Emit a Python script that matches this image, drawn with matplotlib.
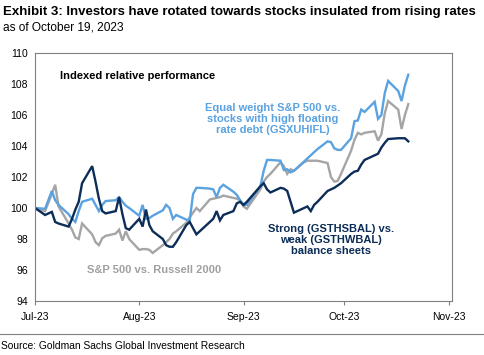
import matplotlib
matplotlib.use("Agg")
import matplotlib.pyplot as plt
import pandas as pd

plt.rcParams['font.family'] = ['Liberation Sans', 'DejaVu Sans']

dates = ["2023-06-30","2023-07-03","2023-07-05","2023-07-06","2023-07-07","2023-07-10","2023-07-11","2023-07-12",
         "2023-07-13","2023-07-14","2023-07-17","2023-07-18","2023-07-19","2023-07-20","2023-07-21","2023-07-24",
         "2023-07-25","2023-07-26","2023-07-27","2023-07-28","2023-07-31","2023-08-01","2023-08-02","2023-08-03",
         "2023-08-04","2023-08-07","2023-08-08","2023-08-09","2023-08-10","2023-08-11","2023-08-14","2023-08-15",
         "2023-08-16","2023-08-17","2023-08-18","2023-08-21","2023-08-22","2023-08-23","2023-08-24","2023-08-25",
         "2023-08-28","2023-08-29","2023-08-30","2023-08-31","2023-09-01","2023-09-05","2023-09-06","2023-09-07",
         "2023-09-08","2023-09-11","2023-09-12","2023-09-13","2023-09-14","2023-09-15","2023-09-18","2023-09-19",
         "2023-09-20","2023-09-21","2023-09-22","2023-09-25","2023-09-26","2023-09-27","2023-09-28","2023-09-29",
         "2023-10-02","2023-10-03","2023-10-04","2023-10-05","2023-10-06","2023-10-09","2023-10-10","2023-10-11",
         "2023-10-12","2023-10-13","2023-10-16","2023-10-17","2023-10-18","2023-10-19"]

strong_vs_weak = [100.0, 99.55, 99.75, 99.1, 99.0, 98.8, 99.3, 99.9, 100.4, 101.6, 102.7, 101.7, 100.6, 99.8, 99.65, 99.8,
                  100.7, 99.6, 98.7, 98.6, 99.3, 98.8, 99.9, 98.9, 98.5, 98.0, 97.6, 97.5, 97.5, 97.8, 98.9, 99.1,
                  98.7, 98.3, 98.5, 99.1, 99.3, 99.8, 99.2, 99.55, 99.8, 100.3, 100.4, 100.2, 100.4, 101.4, 101.6, 101.2,
                  101.0, 101.3, 101.25, 101.1, 100.4, 99.7, 100.0, 100.1, 99.8, 100.2, 100.4, 101.1, 101.2, 101.3,
                  101.45, 101.6, 102.2, 102.35, 102.4, 102.8, 103.1, 103.4, 103.5, 103.9, 104.2, 104.45, 104.5, 104.5,
                  104.5, 104.3]

ew_vs_floating = [100.0, 99.95, 101.1, 100.5, 100.2, 99.6, 99.3, 99.1, 99.8, 100.4, 100.6, 100.2, 99.8, 100.2, 100.45,
                  100.5, 100.7, 100.4, 100.15, 100.0, 99.5, 100.2, 99.3, 99.35, 99.5, 99.85, 100.2, 100.0, 99.3, 99.55,
                  99.25, 99.2, 100.9, 101.3, 101.3, 101.25, 101.2, 100.7, 101.3, 101.5, 101.05, 100.85, 100.5, 100.2,
                  100.2, 101.4, 102.4, 103.1, 103.1, 103.05, 102.45, 102.5, 102.3, 102.4, 103.0, 103.2, 103.4, 103.6,
                  103.8, 104.3, 104.25, 103.85, 103.75, 103.75, 104.5, 105.6, 105.65, 106.35, 106.2, 106.85, 105.75,
                  106.0, 107.4, 108.2, 107.55, 106.9, 107.9, 108.6]

spx_vs_r2k = [100.0, 99.8, 100.9, 101.5, 100.1, 99.0, 98.6, 98.1, 98.0, 99.0, 98.3, 97.8, 97.6, 98.05, 98.2, 98.35,
              98.6, 97.9, 98.5, 98.0, 97.3, 97.35, 97.35, 97.3, 97.1, 97.6, 97.8, 98.0, 98.35, 98.5, 99.05, 99.4,
              99.7, 100.0, 99.8, 100.55, 100.6, 100.65, 100.7, 100.8, 100.65, 100.6, 100.5, 100.1, 99.95, 101.2,
              101.7, 102.0, 102.2, 102.95, 102.7, 102.2, 102.5, 102.4, 102.95, 103.05, 103.05, 103.05, 103.05,
              102.9, 102.0, 101.7, 101.75, 102.2, 103.7, 104.4, 104.85, 104.75, 104.85, 104.95, 104.35, 104.75,
              106.1, 106.9, 106.35, 105.1, 106.0, 106.7]

month_ticks = ["2023-07-01", "2023-08-01", "2023-09-01", "2023-10-01", "2023-11-01"]
month_labels = ["Jul-23", "Aug-23", "Sep-23", "Oct-23", "Nov-23"]
y_ticks = [94, 96, 98, 100, 102, 104, 106, 108, 110]

NAVY = "#0c2d57"
LIGHT = "#5aa2e0"
GREY = "#a5a5a5"

W, H = 484, 355
fig = plt.figure(figsize=(W / 100, H / 100), dpi=100)
ax = fig.add_axes([35 / W, 1 - 301 / H, (452 - 35) / W, (301 - 53) / H])

x = pd.to_datetime(dates) + pd.Timedelta(days=1)
ax.plot(x, spx_vs_r2k, color=GREY, lw=1.7, solid_joinstyle='miter')
ax.plot(x, ew_vs_floating, color=LIGHT, lw=1.7, solid_joinstyle='miter')
ax.plot(x, strong_vs_weak, color=NAVY, lw=1.7, solid_joinstyle='miter')

ax.set_xlim(pd.Timestamp("2023-07-01"), pd.Timestamp("2023-11-02"))
ax.set_ylim(94, 110)
ax.set_yticks(y_ticks)
ax.set_yticklabels([str(v) for v in y_ticks], fontsize=7.5)
ax.set_xticks(pd.to_datetime(month_ticks))
ax.set_xticklabels(month_labels, fontsize=7.5)
ax.tick_params(axis='y', length=0, pad=5)
ax.tick_params(axis='x', length=3, width=0.8, color="#808080", direction='out', pad=5)
for s in ax.spines.values():
    s.set_color("#808080")
    s.set_linewidth(0.8)

ax.annotate("Indexed relative performance", xy=(60, H - 76), xycoords='figure pixels',
            fontsize=8, fontweight='bold', va='center', ha='left', color='black')
ax.annotate("Equal weight S&P 500 vs.\nstocks with high floating\nrate debt (GSXUHIFL)",
            xy=(273, H - 119), xycoords='figure pixels', fontsize=8, fontweight='bold',
            va='center', ha='center', color=LIGHT, linespacing=1.1)
ax.annotate("Strong (GSTHSBAL) vs.\nweak (GSTHWBAL)\nbalance sheets",
            xy=(331, H - 240), xycoords='figure pixels', fontsize=8, fontweight='bold',
            va='center', ha='center', color=NAVY, linespacing=1.1)
ax.annotate("S&P 500 vs. Russell 2000", xy=(154, H - 270), xycoords='figure pixels',
            fontsize=8, fontweight='bold', va='center', ha='center', color="#a0a0a0")

fig.text(3 / W, 1 - 12 / H, "Exhibit 3: Investors have rotated towards stocks insulated from rising rates",
         fontsize=9.55, fontweight='bold', va='center', ha='left')
fig.text(3 / W, 1 - 27 / H, "as of October 19, 2023", fontsize=8.6, va='center', ha='left')
fig.text(1 / W, 1 - 346 / H, "Source: Goldman Sachs Global Investment Research", fontsize=7.35,
         va='center', ha='left')
fig.add_artist(plt.Line2D([0, 1], [1 - 334 / H, 1 - 334 / H], transform=fig.transFigure,
                          color="#808080", lw=0.8))

fig.savefig("out.png", dpi=100)
